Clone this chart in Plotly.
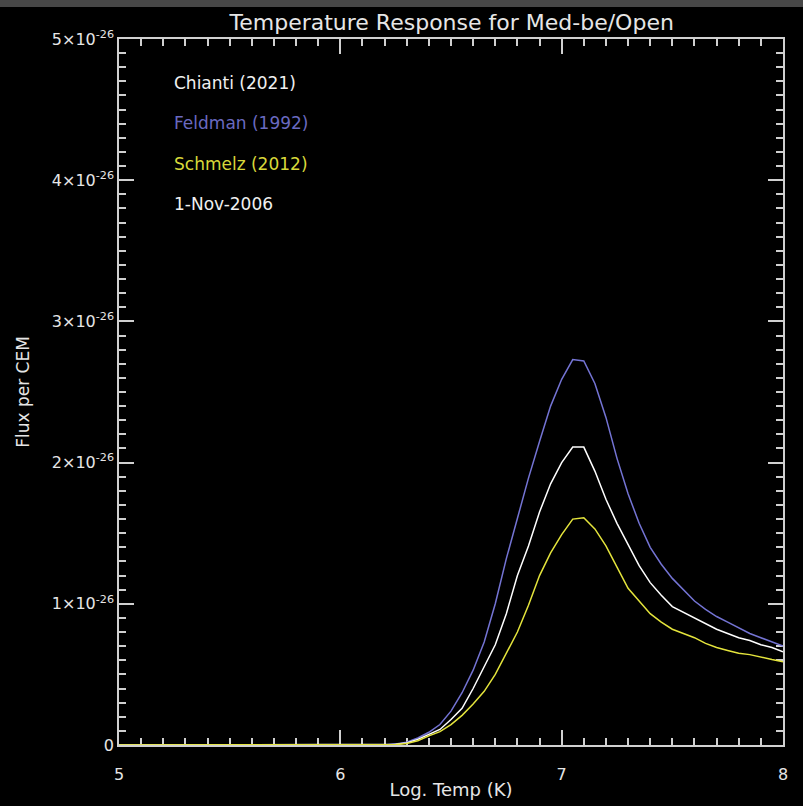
import plotly.graph_objects as go

# --- data (flux in units of 1e-26) ---
log_t = [5.00, 6.20, 6.25, 6.30, 6.35, 6.40, 6.45, 6.50, 6.55, 6.60, 6.65,
         6.70, 6.75, 6.80, 6.85, 6.90, 6.95, 7.00, 7.05, 7.10, 7.15,
         7.20, 7.25, 7.30, 7.35, 7.40, 7.45, 7.50, 7.55, 7.60, 7.65,
         7.70, 7.75, 7.80, 7.85, 7.90, 7.95, 8.00]

chianti = [0.0, 0.0, 0.005, 0.015, 0.04, 0.075, 0.11, 0.18, 0.26, 0.40, 0.55,
           0.71, 0.93, 1.20, 1.41, 1.65, 1.85, 2.00, 2.11, 2.11, 1.94,
           1.74, 1.57, 1.42, 1.27, 1.15, 1.06, 0.98, 0.94, 0.90, 0.86,
           0.82, 0.79, 0.76, 0.74, 0.71, 0.69, 0.66]

feldman = [0.0, 0.0, 0.008, 0.02, 0.05, 0.09, 0.145, 0.24, 0.37, 0.53, 0.73,
           1.00, 1.32, 1.60, 1.89, 2.15, 2.40, 2.59, 2.73, 2.72, 2.56,
           2.32, 2.03, 1.78, 1.57, 1.40, 1.28, 1.18, 1.10, 1.02, 0.96,
           0.91, 0.87, 0.83, 0.79, 0.76, 0.73, 0.70]

schmelz = [0.0, 0.0, 0.003, 0.01, 0.03, 0.065, 0.095, 0.145, 0.21, 0.29, 0.38,
           0.50, 0.65, 0.80, 0.99, 1.20, 1.36, 1.49, 1.60, 1.61, 1.53,
           1.41, 1.26, 1.11, 1.02, 0.93, 0.87, 0.82, 0.79, 0.76, 0.72,
           0.69, 0.67, 0.65, 0.64, 0.62, 0.605, 0.59]

scale = 1e-26
y_ticks = [0, 1, 2, 3, 4, 5]
y_ticktext = ['0'] + [f'{v}×10<sup>-26</sup>' for v in y_ticks[1:]]

FONT = 'DejaVu Sans'
FG = '#e6e6e6'
BLUE = '#7474d4'
YELLOW = '#e4e43c'

fig = go.Figure()
for name, vals, col in [('Feldman (1992)', feldman, BLUE),
                        ('Chianti (2021)', chianti, '#ffffff'),
                        ('Schmelz (2012)', schmelz, YELLOW)]:
    fig.add_trace(go.Scatter(x=log_t, y=[v * scale for v in vals], mode='lines',
                             name=name, line=dict(color=col, width=1.5),
                             cliponaxis=False))

# legend-like labels
labels = [('Chianti (2021)', '#f0f0f0'), ('Feldman (1992)', '#6a6ac0'),
          ('Schmelz (2012)', '#d8d83a'), ('1-Nov-2006', '#f0f0f0')]
for i, (txt, col) in enumerate(labels):
    fig.add_annotation(text=txt, xref='paper', yref='paper', x=0.08,
                       y=0.938 - i * 0.0572, xanchor='left', yanchor='middle',
                       showarrow=False, font=dict(family=FONT, size=17, color=col))

axis_common = dict(showgrid=False, zeroline=False, ticks='inside', mirror='ticks',
                   showline=True, linecolor='#d0d0d0', linewidth=1.5,
                   tickcolor='#d0d0d0', tickwidth=1.5, ticklen=15,
                   tickfont=dict(family=FONT, size=16, color=FG),
                   layer='below traces')

fig.update_xaxes(range=[5, 8], tickvals=[5, 6, 7, 8], ticklabelstandoff=14,
                 minor=dict(dtick=0.1, ticks='inside', ticklen=7,
                            tickcolor='#d0d0d0', tickwidth=1.5),
                 title=dict(text='Log. Temp (K)', standoff=0,
                            font=dict(family=FONT, size=18, color=FG)),
                 **axis_common)
fig.update_yaxes(range=[0, 5 * scale], tickvals=[v * scale for v in y_ticks],
                 ticktext=y_ticktext,
                 minor=dict(dtick=0.1 * scale, ticks='inside', ticklen=7,
                            tickcolor='#d0d0d0', tickwidth=1.5),
                 title=dict(text='Flux per CEM', standoff=18,
                            font=dict(family=FONT, size=17, color=FG)),
                 **axis_common)

# grey strip along the top of the window
fig.add_annotation(text=' ', xref='paper', yref='paper',
                   x=(401.5 - 119) / 664, y=(745 - 3.5) / 706,
                   xanchor='center', yanchor='middle', showarrow=False,
                   width=803, height=7, bgcolor='#474747', borderpad=0,
                   borderwidth=0, font=dict(size=1))

fig.update_layout(
    width=803, height=806,
    margin=dict(l=119, r=20, t=39, b=61, autoexpand=False),
    paper_bgcolor='black', plot_bgcolor='black',
    showlegend=False,
    title=dict(text='Temperature Response for Med-be/Open', x=0.5625, xanchor='center',
               y=0.972, yanchor='middle',
               font=dict(family=FONT, size=22, color=FG)),
)

fig.write_html('out.html', config={'displayModeBar': False},
               post_script="document.body.style.margin='0';")
